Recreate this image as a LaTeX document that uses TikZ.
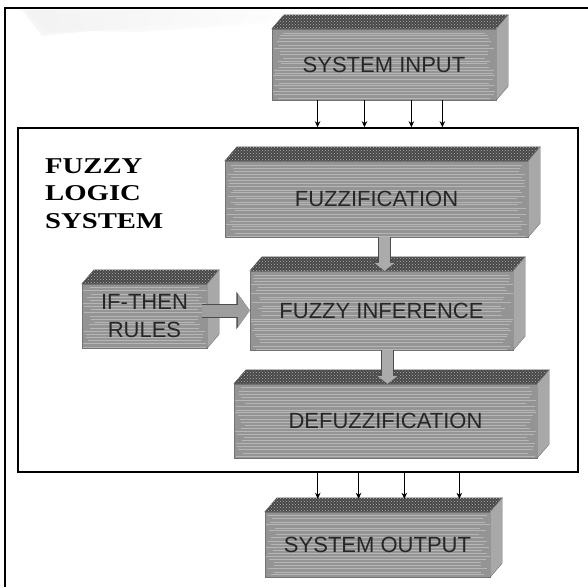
\documentclass[tikz,border=0pt]{standalone}
\usepackage{fontspec}
\newfontfamily\boxfont{Liberation Sans}
\newfontfamily\headfont[FakeStretch=1.27]{Liberation Serif}
\usepackage{tikz}
\usetikzlibrary{arrows.meta, patterns, calc}

% streaky stone faces of the 3D slabs
\tikzset{
  slab/.style={fill=black!42, draw=black!55, line width=0.4pt, inner sep=0pt,
    align=center, text=black!85, font=\boxfont\fontsize{22}{28}\selectfont,
    path picture={
      \foreach \k in {1,...,26}{
        \pgfmathsetmacro\yy{3.1*\k+1.4*rnd}
        \pgfmathsetmacro\xx{12*rnd}
        \draw[white, opacity=0.32, line width=0.55pt]
          ([xshift=\xx pt, yshift=-\yy pt]path picture bounding box.north west) --
          ([xshift=-\xx pt, yshift=-\yy pt]path picture bounding box.north east);
      }
    }},
  topface/.style={fill=black!72, draw=black!60, line width=0.4pt,
    postaction={pattern=crosshatch dots, pattern color=black!30}},
  sideface/.style={fill=black!34, draw=black!55, line width=0.4pt},
  wire/.style={line width=0.9pt, -{Stealth[length=6pt,width=5.5pt]}},
  pipe/.style={line width=11pt, draw=black!33, -{Triangle[length=8pt,width=20pt]},
    preaction={draw=black!70, line width=13pt, -{Triangle[length=9.5pt,width=24pt]}}},
  flow/.style={line width=12pt, draw=black!38, -{Triangle[length=12pt,width=33pt]},
    preaction={draw=black!70, line width=14pt, -{Triangle[length=13.5pt,width=37pt]}}}
}

% top and right faces of a slab, depth 12pt across, 14pt up
\newcommand{\slabfaces}[1]{%
  \draw[topface] (#1.north west) -- ([shift={(12,-14)}]#1.north west)
    -- ([shift={(12,-14)}]#1.north east) -- (#1.north east) -- cycle;
  \draw[sideface] (#1.north east) -- ([shift={(12,-14)}]#1.north east)
    -- ([shift={(12,-14)}]#1.south east) -- (#1.south east) -- cycle;
}

\begin{document}
\begin{tikzpicture}[x=1pt, y=-1pt]
  \pgfmathsetseed{11}
  \useasboundingbox (0,0) rectangle (588,587);

  % page rule and scan smear
  \foreach \o in {0,3,6} {
    \shade[left color=black!5, right color=white, opacity=0.7]
      (22+\o,10) -- (330-\o,10) -- (330-\o,14+\o) -- (140,26+\o) -- (42+\o,36-\o) -- cycle;
  }
  \draw[line width=1.4pt] (5,587) -- (5,8) -- (588,8);

  % fuzzy logic system frame
  \node[draw, line width=1.6pt, minimum width=560pt, minimum height=344pt] (fls) at (298,300) {};
  \node[anchor=north west, align=left, inner sep=0pt,
    font=\headfont\bfseries\fontsize{22.6}{27.5}\selectfont, text=black]
    (title) at (45,158) {FUZZY\\LOGIC\\SYSTEM};

  % slabs
  \node[slab, minimum width=224pt, minimum height=71pt] (input) at (384,64.5) {SYSTEM INPUT};
  \node[slab, minimum width=303pt, minimum height=76pt] (fuzz) at (376.5,199) {FUZZIFICATION};
  \node[slab, minimum width=263pt, minimum height=79pt] (infer) at (381.5,310.5) {FUZZY INFERENCE};
  \node[slab, minimum width=125pt, minimum height=64pt] (rules) at (144.5,316) {IF-THEN\\RULES};
  \node[slab, minimum width=303pt, minimum height=74pt] (defuzz) at (385.5,421) {DEFUZZIFICATION};
  \node[slab, minimum width=225pt, minimum height=65pt] (output) at (377.5,544.5) {SYSTEM OUTPUT};
  \foreach \n in {input,fuzz,infer,rules,defuzz,output} {\slabfaces{\n}}

  % inputs into the frame, frame out to the output
  \foreach \f [count=\i] in {0.204,0.413,0.622,0.760} {
    \coordinate (in\i) at ($(input.south west)!\f!(input.south east)$);
    \draw[wire] (in\i) -- (in\i |- fls.north);
  }
  \foreach \f [count=\i] in {0.235,0.416,0.619,0.863} {
    \coordinate (out\i) at ($([yshift=13pt]output.north west)!\f!([yshift=13pt]output.north east)$);
    \draw[wire] (out\i |- fls.south) -- (out\i);
  }

  % links between the stages
  \coordinate (f1) at ([xshift=8pt]fuzz.south);
  \draw[pipe] (f1) -- (f1 |- infer.north);
  \coordinate (f2) at ([xshift=6pt]infer.south);
  \draw[pipe] (f2) -- (f2 |- defuzz.north);
  \draw[flow] ([xshift=-5pt]rules.east |- infer.west) -- (infer.west);
\end{tikzpicture}
\end{document}
